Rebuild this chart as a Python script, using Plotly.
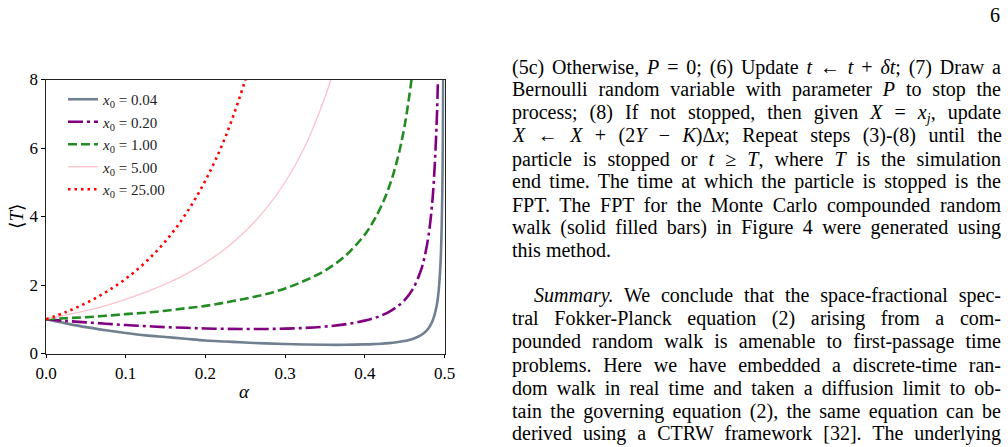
import plotly.graph_objects as go

W, H = 1008, 447

# ---------------- data ----------------
alpha_004 = [0, 0.025, 0.05, 0.075, 0.1, 0.125, 0.15, 0.175, 0.2, 0.225, 0.25, 0.275, 0.3,
             0.325, 0.35, 0.375, 0.4, 0.41, 0.42, 0.43, 0.44, 0.45, 0.46, 0.47, 0.475,
             0.48, 0.485, 0.49, 0.4925, 0.495, 0.4965, 0.4975, 0.498, 0.4985]
T_004 = [1.0, 0.88, 0.77, 0.68, 0.60, 0.53, 0.48, 0.43, 0.38, 0.35, 0.32, 0.295, 0.276,
         0.262, 0.255, 0.254, 0.265, 0.273, 0.286, 0.303, 0.329, 0.367, 0.426, 0.528, 0.611,
         0.74, 0.95, 1.37, 1.79, 2.64, 3.73, 5.19, 6.46, 8.59]

alpha_020 = [0, 0.025, 0.05, 0.075, 0.1, 0.125, 0.15, 0.175, 0.2, 0.225, 0.25, 0.275, 0.3,
             0.325, 0.35, 0.375, 0.4, 0.41, 0.42, 0.43, 0.44, 0.45, 0.46, 0.47, 0.475,
             0.48, 0.485, 0.49, 0.4925]
T_020 = [1.0, 0.95, 0.91, 0.87, 0.83, 0.80, 0.77, 0.75, 0.73, 0.72, 0.714, 0.715, 0.725,
         0.747, 0.786, 0.85, 0.96, 1.02, 1.10, 1.21, 1.36, 1.56, 1.87, 2.40, 2.82,
         3.45, 4.51, 6.63, 8.75]

alpha_100 = [0, 0.025, 0.05, 0.075, 0.1, 0.125, 0.15, 0.175, 0.2, 0.225, 0.25, 0.275, 0.3,
             0.325, 0.35, 0.375, 0.4, 0.41, 0.42, 0.43, 0.44, 0.45, 0.46]
T_100 = [1.0, 1.03, 1.06, 1.10, 1.15, 1.19, 1.25, 1.32, 1.39, 1.49, 1.60, 1.73, 1.90,
         2.13, 2.42, 2.84, 3.47, 3.83, 4.27, 4.83, 5.59, 6.65, 8.24]

alpha_500 = [0, 0.025, 0.05, 0.075, 0.1, 0.125, 0.15, 0.175, 0.2, 0.225, 0.25, 0.275, 0.3,
             0.325, 0.35, 0.36, 0.375]
T_500 = [1.0, 1.12, 1.25, 1.40, 1.58, 1.79, 2.03, 2.31, 2.65, 3.06, 3.57, 4.20, 5.00,
         6.05, 7.48, 8.20, 9.51]

alpha_2500 = [0, 0.025, 0.05, 0.075, 0.1, 0.125, 0.15, 0.175, 0.2, 0.225, 0.25, 0.26]
T_2500 = [1.0, 1.21, 1.47, 1.79, 2.18, 2.67, 3.28, 4.06, 5.05, 6.32, 7.98, 8.78]

legend_labels = ["<i>x</i><sub>0</sub> = 0.04", "<i>x</i><sub>0</sub> = 0.20",
                 "<i>x</i><sub>0</sub> = 1.00", "<i>x</i><sub>0</sub> = 5.00",
                 "<i>x</i><sub>0</sub> = 25.00"]

x_ticks = [0.0, 0.1, 0.2, 0.3, 0.4, 0.5]
y_ticks = [0, 2, 4, 6, 8]

page_lines = [
    "(5c) Otherwise, <i>P</i> = 0; (6) Update <i>t</i> ← <i>t</i> + <i>δt</i>; (7) Draw a",
    "Bernoulli random variable with parameter <i>P</i> to stop the",
    "process; (8) If not stopped, then given <i>X</i> = <i>x<sub>j</sub></i>, update",
    "<i>X</i> ← <i>X</i> + (2<i>Y</i> − <i>K</i>)Δ<i>x</i>; Repeat steps (3)-(8) until the",
    "particle is stopped or <i>t</i> ≥ <i>T</i>, where <i>T</i> is the simulation",
    "end time. The time at which the particle is stopped is the",
    "FPT. The FPT for the Monte Carlo compounded random",
    "walk (solid filled bars) in Figure 4 were generated using",
    "this method.",
    "<i>Summary.</i> We conclude that the space-fractional spec-",
    "tral Fokker-Planck equation (2) arising from a com-",
    "pounded random walk is amenable to first-passage time",
    "problems. Here we have embedded a discrete-time ran-",
    "dom walk in real time and taken a diffusion limit to ob-",
    "tain the governing equation (2), the same equation can be",
    "derived using a CTRW framework [32]. The underlying",
]
page_number = "6"

# ---------------- layout helpers ----------------
def px(x):
    return x / W

def py(y):
    return 1 - y / H

SERIF = "Liberation Serif, DejaVu Serif, serif"

fig = go.Figure()
series = [
    (alpha_004, T_004, dict(color="#708090", width=2.6, dash="solid")),
    (alpha_020, T_020, dict(color="#800080", width=2.6, dash="15px,4px,3px,4px")),
    (alpha_100, T_100, dict(color="#228B22", width=2.6, dash="9px,4px")),
    (alpha_500, T_500, dict(color="#FFC0CB", width=1.3, dash="solid")),
    (alpha_2500, T_2500, dict(color="#FF0000", width=2.6, dash="2.5px,4px")),
]
for (xa, ya, ln), name in zip(series, legend_labels):
    fig.add_trace(go.Scatter(x=xa, y=ya, mode="lines", name=name,
                             line=dict(shape="spline", smoothing=1.0, **ln)))

fig.update_layout(
    template="none",
    width=W, height=H,
    margin=dict(l=0, r=0, t=0, b=0, pad=0, autoexpand=False),
    paper_bgcolor="white", plot_bgcolor="white",
    font=dict(family=SERIF, size=16, color="black"),
    showlegend=True,
    legend=dict(x=px(63), y=py(83), xanchor="left", yanchor="top",
                bgcolor="rgba(0,0,0,0)", borderwidth=0,
                font=dict(family=SERIF, size=15, color="#222")),
    xaxis=dict(domain=[px(46), px(444.5)], range=[0, 0.5], tickvals=x_ticks,
               tickformat=".1f", ticks="outside", ticklen=3.5, tickwidth=1,
               tickcolor="black", showline=True, linecolor="#222", linewidth=1.2,
               mirror=True, showgrid=False, zeroline=False, automargin=False,
               tickfont=dict(family=SERIF, size=17)),
    yaxis=dict(domain=[py(353.5), py(79.5)], range=[0, 8], tickvals=y_ticks,
               ticks="outside", ticklen=3.5, tickwidth=1, tickcolor="black",
               showline=True, linecolor="#222", linewidth=1.2, mirror=True,
               showgrid=False, zeroline=False, automargin=False,
               tickfont=dict(family=SERIF, size=17)),
)

ann = []
ann.append(dict(text="<i>α</i>", x=px(244), y=py(391), xref="paper", yref="paper",
                xanchor="center", yanchor="middle",
                showarrow=False, font=dict(family=SERIF, size=19)))
ann.append(dict(text="⟨<i>T</i>⟩", x=px(16), y=py(217), xref="paper", yref="paper",
                xanchor="center", yanchor="middle",
                showarrow=False, textangle=-90, font=dict(family=SERIF, size=19)))
ann.append(dict(text=page_number, x=px(1002), y=py(15), xref="paper", yref="paper",
                xanchor="right", yanchor="middle", showarrow=False,
                font=dict(family=SERIF, size=20)))

line_y = [67, 90, 113, 136, 159, 182, 205, 227.5, 250, 295, 318, 341.5, 365, 388, 411, 433.5]
justify_targets = {}
for i, (txt, yy) in enumerate(zip(page_lines, line_y)):
    x0 = 532 if i == 9 else 510
    idx = len(ann)
    ann.append(dict(text=txt, x=px(x0), y=py(yy), xref="paper", yref="paper",
                    xanchor="left", yanchor="middle", align="left", showarrow=False,
                    font=dict(family=SERIF, size=20, color="black")))
    if i != 8:
        justify_targets[idx] = 1001 - x0 - 2

fig.update_layout(annotations=ann)

js_targets = "{" + ",".join(f'"{k}":{v}' for k, v in justify_targets.items()) + "}"
post = """
(function(){
 var gd = document.getElementById('{plot_id}');
 var targets = TARGETS;
 gd.querySelectorAll('g.annotation').forEach(function(g){
   var idx = g.getAttribute('data-index');
   if(!(idx in targets)) return;
   var t = g.querySelector('text.annotation-text');
   if(!t) return;
   t.style.wordSpacing = '0px';
   var w = t.getComputedTextLength();
   var n = (t.textContent.match(/ /g)||[]).length;
   if(n>0){ t.style.wordSpacing = ((targets[idx]-w)/n) + 'px'; }
 });
})();
""".replace("TARGETS", js_targets)

fig.write_html("out.html", post_script=post, config={"responsive": False, "displayModeBar": False})
